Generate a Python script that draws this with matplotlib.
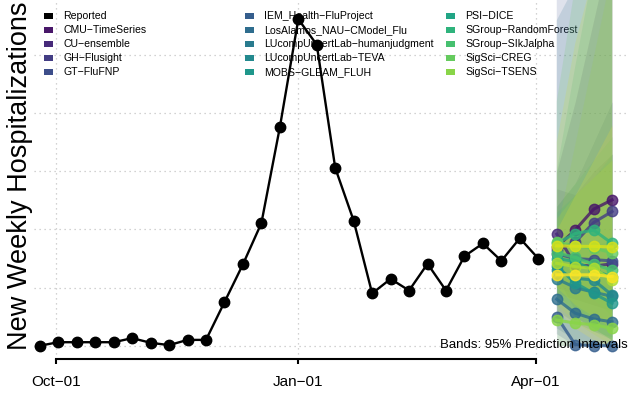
import numpy as np
import pandas as pd
import matplotlib
matplotlib.use("Agg")
import matplotlib.pyplot as plt
import matplotlib.dates as mdates
from matplotlib.patches import Rectangle

plt.rcParams['font.family'] = ['Liberation Sans', 'DejaVu Sans']

# reported weekly hospitalizations
reported_dates = pd.date_range('2022-09-25', periods=28, freq='7D')
reported = [0, 6, 6, 6, 6, 13, 5, 1, 10, 10, 75, 140, 211, 376, 562, 518,
            306, 215, 90, 115, 95, 141, 95, 154, 176, 146, 185, 150]

# 4 week ahead forecasts
fc_dates = pd.date_range('2023-04-09', periods=4, freq='7D')
models = ['CMU-TimeSeries', 'CU-ensemble', 'GH-Flusight', 'GT-FluFNP',
          'IEM_Health-FluProject', 'LosAlamos_NAU-CModel_Flu',
          'LUcompUncertLab-humanjudgment', 'LUcompUncertLab-TEVA',
          'MOBS-GLEAM_FLUH', 'PSI-DICE', 'SGroup-RandomForest',
          'SGroup-SIkJalpha', 'SigSci-CREG', 'SigSci-TSENS']
median = [
    [170, 199, 235, 251],
    [192, 139, 137, 141],
    [165, 178, 212, 231],
    [158, 150, 148, 146],
    [50, 2, 0, 0],
    [80, 56, 46, 41],
    [115, 100, 92, 85],
    [130, 116, 113, 87],
    [137, 108, 90, 73],
    [150, 145, 130, 118],
    [176, 193, 199, 176],
    [160, 152, 140, 130],
    [178, 172, 168, 160],
    [44, 39, 36, 30],
]
lower = [
    [90, 80, 70, 60],
    [120, 60, 40, 30],
    [100, 90, 100, 100],
    [20, 0, 0, 0],
    [0, 0, 0, 0],
    [30, 10, 0, 0],
    [60, 40, 25, 15],
    [80, 50, 30, 10],
    [90, 50, 25, 10],
    [80, 50, 30, 10],
    [110, 100, 80, 50],
    [90, 60, 30, 10],
    [100, 70, 40, 20],
    [0, 0, 0, 0],
]
upper = [
    [300, 420, 560, 700],
    [270, 260, 300, 330],
    [240, 280, 350, 420],
    [700, 760, 820, 880],
    [150, 120, 110, 100],
    [560, 620, 680, 740],
    [170, 170, 175, 180],
    [190, 200, 220, 240],
    [190, 180, 180, 190],
    [230, 260, 290, 330],
    [300, 480, 650, 800],
    [240, 280, 320, 360],
    [420, 620, 800, 950],
    [200, 350, 500, 650],
]
# further forecasts drawn but not in the legend
extra_median = [[142, 136, 133, 113], [172, 171, 171, 170], [122, 122, 122, 119]]
extra_lower = [[70, 40, 20, 0], [100, 70, 50, 30], [60, 30, 10, 0]]
extra_upper = [[220, 260, 290, 320], [350, 520, 640, 760], [200, 260, 320, 380]]

tick_dates = pd.to_datetime(['2022-10-01', '2023-01-01', '2023-04-01'])
tick_labels = ['Oct\u221201', 'Jan\u221201', 'Apr\u221201']

W, H = 629, 396
fig = plt.figure(figsize=(W / 100, H / 100), dpi=100)
ax = fig.add_axes([34 / W, (H - 359) / H, (W - 34) / W, 359 / H])

n_all = len(models) + len(extra_median)
colors = plt.cm.viridis(np.linspace(0, 1, n_all + 1))[1:]

all_med = median + extra_median
all_lo = lower + extra_lower
all_up = upper + extra_upper

for i in range(n_all):
    ax.fill_between(fc_dates, all_lo[i], all_up[i], color=colors[i],
                    alpha=0.16, lw=0, zorder=2)

ax.plot(reported_dates, reported, color='black', lw=1.7, marker='o',
        ms=7.5, zorder=5)

for i in range(n_all):
    ax.plot(fc_dates, all_med[i], color=colors[i], lw=2.2, marker='o',
            ms=7.5, alpha=0.8, zorder=6)

oct1 = mdates.date2num(tick_dates[0])
ax.set_xlim(oct1 - 8.23, oct1 + 217.4)
ax.set_ylim(-22.9, 595)

ax.set_xticks(tick_dates)
ax.set_xticklabels(tick_labels, fontsize=11)
ax.set_yticks(range(0, 600, 100))
ax.tick_params(axis='y', length=0, labelleft=False)
ax.tick_params(axis='x', length=3.6, width=1.5, pad=8)
ax.grid(True, color='#c4c4c4', lw=0.9, ls=(0, (1, 3)))
ax.set_axisbelow(True)
for s in ['left', 'right', 'top']:
    ax.spines[s].set_visible(False)
ax.spines['bottom'].set_linewidth(1.5)
ax.spines['bottom'].set_bounds(mdates.date2num(tick_dates[0]),
                               mdates.date2num(tick_dates[-1]))

# legend, laid out like base R (equal column widths)
labels = ['Reported'] + models
leg_colors = ['black'] + list(colors[:len(models)])
for i, (lab, c) in enumerate(zip(labels, leg_colors)):
    col, row = i // 5, i % 5
    x0 = 44.3 + col * 201
    y0 = 16 + row * 14.1
    ax.add_patch(Rectangle((x0 / W, 1 - (y0 + 3) / H), 9 / W, 6 / H,
                           transform=fig.transFigure, color=c, lw=0,
                           zorder=1, clip_on=False))
    ax.text((x0 + 19) / W, 1 - y0 / H, lab.replace('-', '\u2212'),
            transform=fig.transFigure, fontsize=7.6, va='center',
            ha='left', zorder=1)

ax.text(628 / W, 1 - 345 / H, 'Bands: 95% Prediction Intervals',
        transform=fig.transFigure, fontsize=9.5, ha='right', va='center',
        zorder=7)

fig.text(20 / W, 1 - 176 / H, 'New Weekly Hospitalizations', rotation=90,
         fontsize=19.5, ha='center', va='center')

fig.savefig('out.png', dpi=100)
